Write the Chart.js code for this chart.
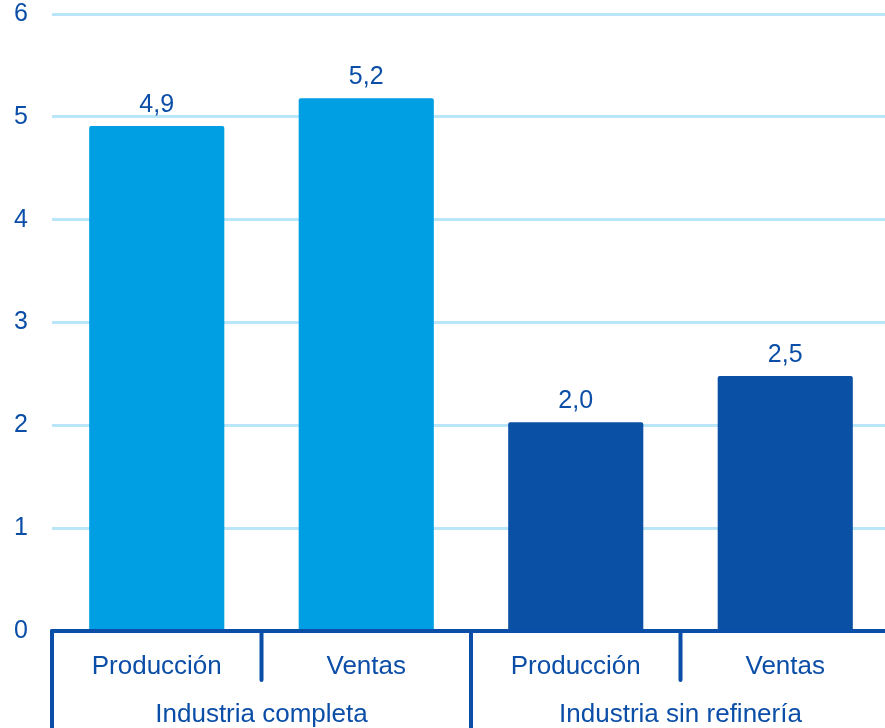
<!DOCTYPE html>
<html>
<head>
<meta charset="utf-8">
<script src="https://cdn.jsdelivr.net/npm/chart.js@4"></script>
<style>
  html, body { margin: 0; padding: 0; background: #fff; overflow: hidden; }
  #wrap { width: 885px; height: 728px; overflow: hidden; }
</style>
</head>
<body>
<div id="wrap"><canvas id="chart" width="890" height="728"></canvas></div>
<script>
const categories = ['Producción', 'Ventas', 'Producción', 'Ventas'];
const groups = ['Industria completa', 'Industria sin refinería'];
const values = [4.91, 5.18, 2.03, 2.48];
const valueLabels = ['4,9', '5,2', '2,0', '2,5'];
const yTicks = [0, 1, 2, 3, 4, 5, 6];

const lightBlue = '#009FE3';
const darkBlue = '#0A51A5';
const textBlue = '#0B4EA7';
const gridBlue = '#B9E6F9';
const FONT = '"Liberation Sans", Arial, sans-serif';

const axisPlugin = {
  id: 'axisPlugin',
  afterDatasetsDraw(chart) {
    const ctx = chart.ctx;
    const x = chart.scales.x;
    const area = chart.chartArea;
    const bottom = chart.height;
    const meta = chart.getDatasetMeta(0);

    // value labels
    ctx.save();
    ctx.fillStyle = textBlue;
    ctx.font = '25px ' + FONT;
    ctx.textAlign = 'center';
    ctx.textBaseline = 'alphabetic';
    meta.data.forEach((bar, i) => {
      ctx.fillText(valueLabels[i], bar.x, bar.y - 14);
    });
    ctx.restore();

    // axis line
    ctx.save();
    ctx.strokeStyle = textBlue;
    ctx.lineWidth = 4;
    ctx.lineCap = 'round';
    ctx.beginPath();
    ctx.moveTo(area.left, area.bottom);
    ctx.lineTo(area.right, area.bottom);
    ctx.stroke();

    const step = x.getPixelForValue(1) - x.getPixelForValue(0);
    const edges = categories.map((c, i) => x.getPixelForValue(i) - step / 2);
    edges.forEach((ex, i) => {
      const full = i % 2 === 0;
      ctx.beginPath();
      ctx.moveTo(ex, area.bottom);
      ctx.lineTo(ex, full ? bottom + 5 : area.bottom + 49);
      ctx.stroke();
    });

    // category labels
    ctx.fillStyle = textBlue;
    ctx.font = '26px ' + FONT;
    ctx.textAlign = 'center';
    ctx.textBaseline = 'alphabetic';
    categories.forEach((c, i) => {
      ctx.fillText(c, x.getPixelForValue(i), area.bottom + 43);
    });
    groups.forEach((g, j) => {
      const cx = (x.getPixelForValue(2 * j) + x.getPixelForValue(2 * j + 1)) / 2;
      ctx.fillText(g, cx, area.bottom + 91);
    });
    ctx.restore();
  }
};

new Chart(document.getElementById('chart'), {
  type: 'bar',
  data: {
    labels: categories,
    datasets: [{
      data: values,
      backgroundColor: [lightBlue, lightBlue, darkBlue, darkBlue],
      barPercentage: 0.645,
      categoryPercentage: 1,
      borderRadius: 2,
      borderSkipped: 'bottom'
    }]
  },
  options: {
    responsive: false,
    devicePixelRatio: 1,
    animation: false,
    layout: { padding: { top: 14, bottom: 97, right: 0, left: 0 } },
    plugins: { legend: { display: false }, tooltip: { enabled: false } },
    scales: {
      x: { display: false },
      y: {
        min: 0,
        max: 6,
        afterFit(scale) {
          scale.width = 52;
          scale.paddingTop = 0;
          scale.paddingBottom = 0;
        },
        afterBuildTicks(scale) { scale.ticks = yTicks.map(v => ({ value: v })); },
        border: { display: false },
        grid: { color: gridBlue, lineWidth: 3, drawTicks: false },
        ticks: {
          color: textBlue,
          padding: 24,
          font: { size: 25, family: FONT }
        }
      }
    }
  },
  plugins: [axisPlugin]
});
</script>
</body>
</html>
